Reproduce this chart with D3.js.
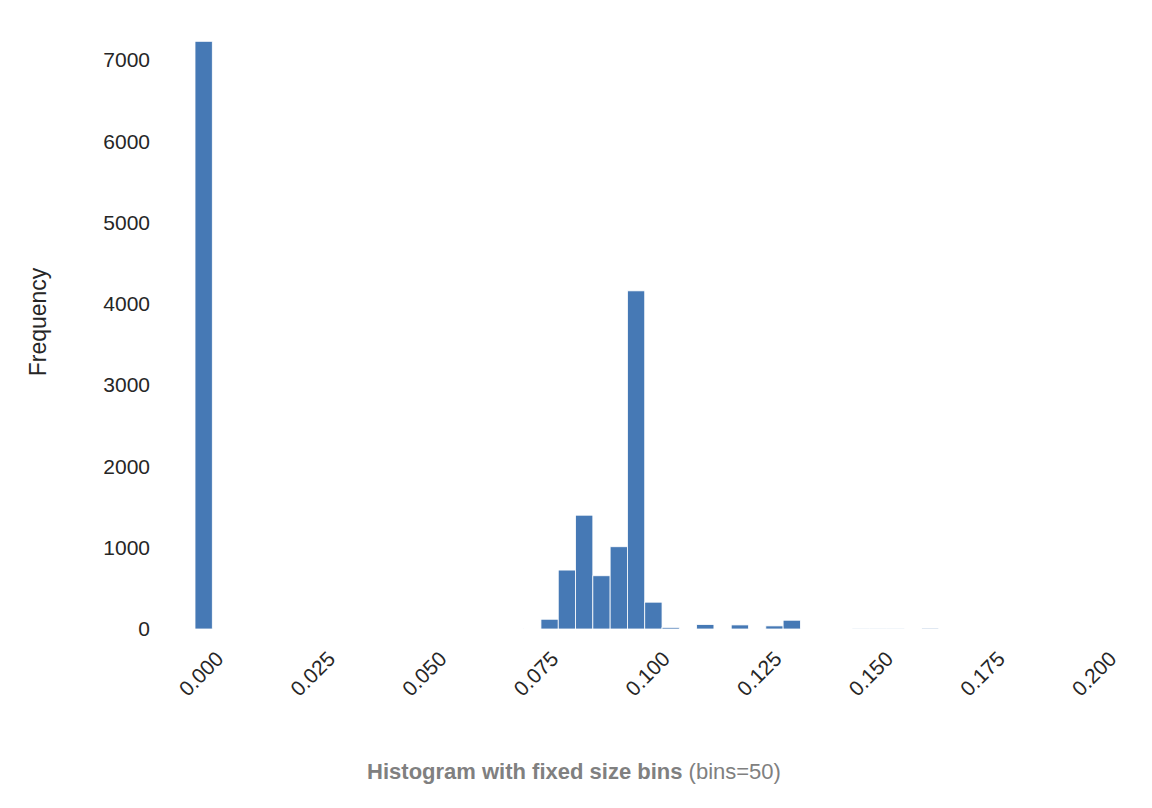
<!DOCTYPE html>
<html><head><meta charset="utf-8">
<script src="https://cdn.jsdelivr.net/npm/d3@7"></script>
<style>body{margin:0;background:#fff;font-family:"Liberation Sans",Arial,sans-serif}</style>
</head><body><svg id="c" width="1152" height="808"></svg>
<script>
const binMin = 0.0, binMax = 0.1937, nBins = 50;
const counts = [7230,0,0,0,0,0,0,0,0,0,0,0,0,0,0,0,0,0,0,5,
  120,725,1400,655,1012,4160,330,20,0,55,0,50,0,38,108,0,0,0,2,2,
  2,0,12,0,0,0,0,0,0,0];
const xTicks = [0,0.025,0.05,0.075,0.1,0.125,0.15,0.175,0.2];
const yTicks = [0,1000,2000,3000,4000,5000,6000,7000];

const svg = d3.select("#c");
const x = d3.scaleLinear().domain([0,0.2]).range([195,1088]);
const y = d3.scaleLinear().domain([0,7000]).range([629,60]);
const w = (binMax-binMin)/nBins;

svg.append("g").selectAll("rect").data(counts).join("rect")
  .attr("x",(d,i)=>x(binMin+i*w)).attr("width",x(w)-x(0))
  .attr("y",d=>y(d)).attr("height",d=>y(0)-y(d))
  .attr("fill","#4679b5").attr("stroke","#fff").attr("stroke-width",0.8);

const ya = svg.append("g").attr("transform","translate(150,0)")
  .call(d3.axisLeft(y).tickValues(yTicks).tickSize(0).tickPadding(0).tickFormat(d3.format("d")));
ya.select(".domain").remove();
ya.selectAll("text").attr("font-size",21).attr("fill","#262626").attr("font-family","Liberation Sans, Arial, sans-serif");

const xa = svg.append("g").attr("transform","translate(0,645)")
  .call(d3.axisBottom(x).tickValues(xTicks).tickSize(0).tickFormat(d3.format(".3f")));
xa.select(".domain").remove();
xa.selectAll("text").attr("font-size",21).attr("fill","#262626")
  .attr("font-family","Liberation Sans, Arial, sans-serif")
  .attr("text-anchor","end").attr("dy","0.35em")
  .attr("transform","translate(22,8) rotate(-45)");

svg.append("text").attr("transform","translate(46,322) rotate(-90)")
  .attr("text-anchor","middle").attr("font-size",23).attr("fill","#262626").text("Frequency");

const t = svg.append("text").attr("x",574).attr("y",779).attr("text-anchor","middle")
  .attr("font-size",22).attr("fill","#808080");
t.append("tspan").attr("font-weight","bold").text("Histogram with fixed size bins");
t.append("tspan").text(" (bins=50)");
</script></body></html>
